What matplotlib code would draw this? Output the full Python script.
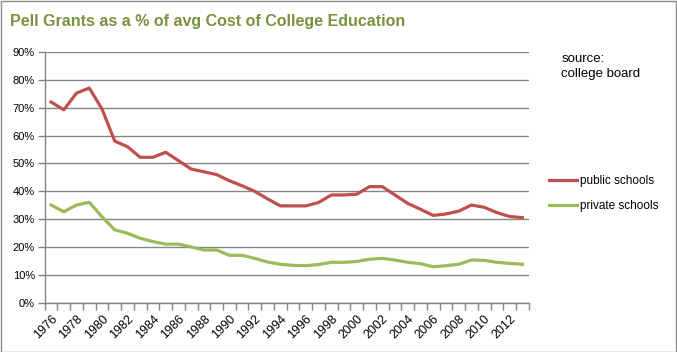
import matplotlib.pyplot as plt
from matplotlib.ticker import FixedLocator, FuncFormatter

years = list(range(1976, 2014))
public_schools = [72, 69.2, 75.2, 77, 69.5, 58, 56, 52.2, 52.2, 54,
                  51, 48, 47, 46, 43.8, 42, 40, 37.3, 34.8, 34.8,
                  34.8, 36, 38.7, 38.7, 39, 41.7, 41.7, 38.7, 35.7, 33.6,
                  31.4, 31.9, 32.9, 35.1, 34.3, 32.4, 31, 30.6]
private_schools = [35.1, 32.7, 35.1, 36.1, 30.9, 26.2, 25, 23.2, 22, 21.1,
                   21.1, 20.1, 19, 19, 17.1, 17.1, 16, 14.7, 13.9, 13.5,
                   13.4, 13.8, 14.6, 14.6, 14.9, 15.7, 16, 15.4, 14.6, 14.1,
                   13, 13.4, 13.9, 15.4, 15.3, 14.6, 14.2, 13.9]
yticks = list(range(0, 100, 10))

red = "#C0504D"
green = "#9BBB59"
grid_c = "#868686"

plt.rcParams['font.family'] = ['Liberation Sans', 'DejaVu Sans']

fig = plt.figure(figsize=(6.77, 3.52), dpi=100)
fig.patches.append(plt.Rectangle((0.001, 0.001), 0.997, 0.996, transform=fig.transFigure,
                                 fill=False, edgecolor="#8c8c8c", linewidth=1))
ax = fig.add_axes([0.066, 0.139, 0.715, 0.714])

x = list(range(len(years)))
ax.plot(x, public_schools, color=red, lw=2.3, label="public schools", solid_joinstyle="round")
ax.plot(x, private_schools, color=green, lw=2.3, label="private schools", solid_joinstyle="round")

ax.set_xlim(-0.5, len(years) - 0.5)
ax.set_ylim(0, 90)
ax.set_yticks(yticks)
ax.yaxis.set_major_formatter(FuncFormatter(lambda v, p: f"{int(v)}%"))
ax.grid(axis="y", color=grid_c, lw=1)
ax.set_axisbelow(True)

ax.xaxis.set_major_locator(FixedLocator(x[::2]))
ax.set_xticklabels([str(y) for y in years[::2]], rotation=45, ha="right",
                   rotation_mode="anchor")
ax.xaxis.set_minor_locator(FixedLocator([i - 0.5 for i in range(len(years) + 1)]))
ax.tick_params(axis="x", which="major", length=0, labelsize=9, pad=7)
ax.tick_params(axis="x", which="minor", length=5, color=grid_c, width=1)
ax.tick_params(axis="y", length=5, color=grid_c, width=1, labelsize=8, pad=2)

for s in ["top", "right"]:
    ax.spines[s].set_visible(False)
for s in ["left", "bottom"]:
    ax.spines[s].set_color(grid_c)
    ax.spines[s].set_linewidth(1)

fig.text(0.015, 0.94, "Pell Grants as a % of avg Cost of College Education",
         fontsize=11.5, fontweight="bold", color="#77933C", va="center")
fig.text(0.829, 0.812, "source:\ncollege board", fontsize=9.5, va="center",
         linespacing=1.3)

ax.legend(loc="center left", bbox_to_anchor=(1.02, 0.435), frameon=False,
          fontsize=8.5, handlelength=2.4, handletextpad=0.2, labelspacing=1.1)

fig.savefig("out.png", dpi=100)
